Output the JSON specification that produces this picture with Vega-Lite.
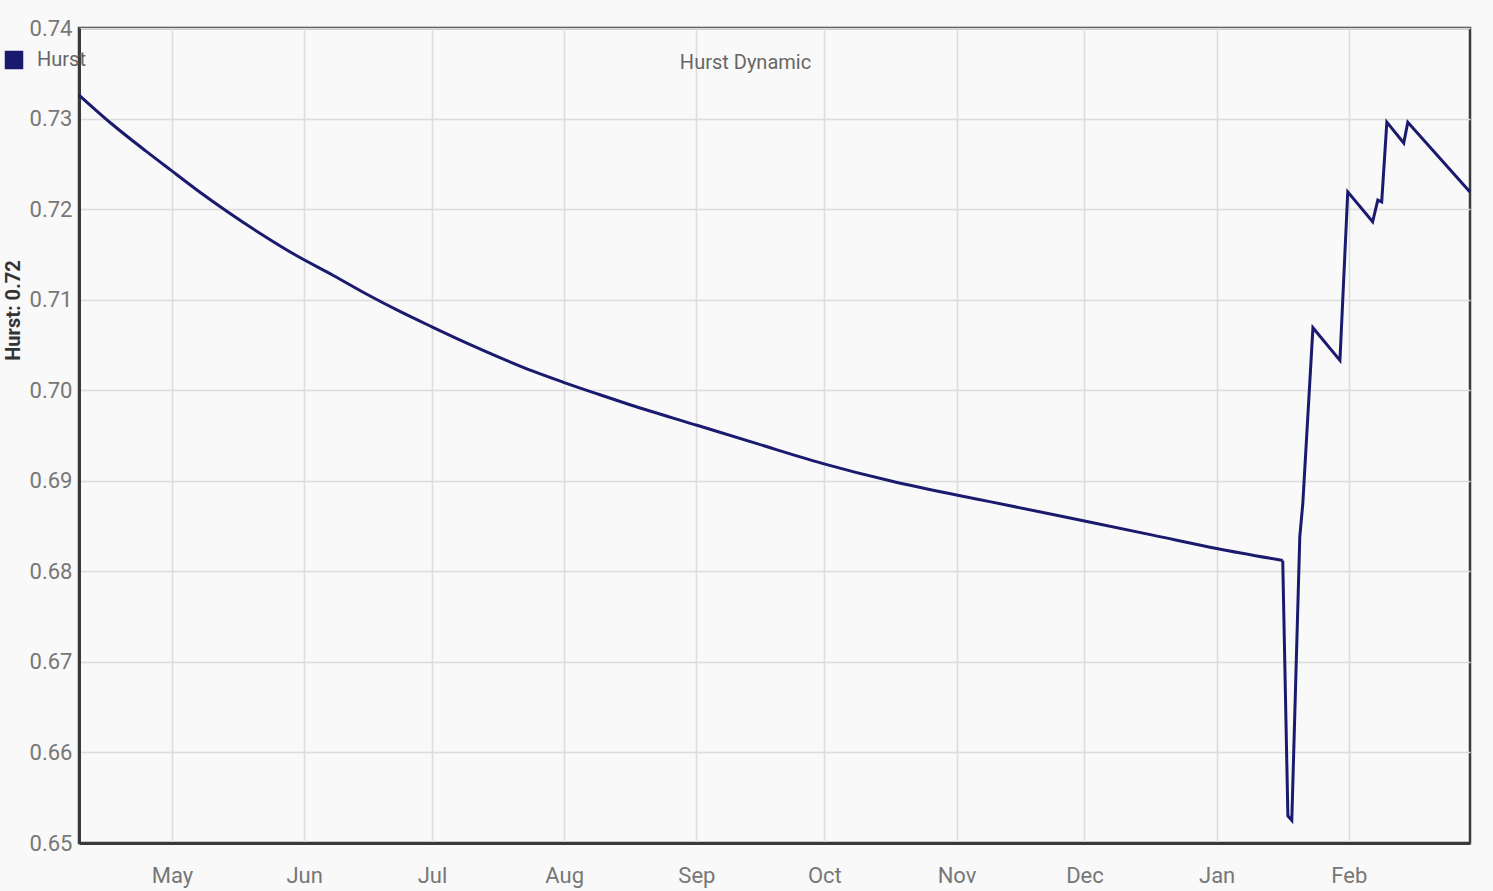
{
  "$schema": "https://vega.github.io/schema/vega-lite/v6.json",
  "width": 1391,
  "height": 815,
  "autosize": {"type": "none"},
  "padding": {"left": 79, "top": 28, "right": 23, "bottom": 48},
  "background": "#f9f9f9",
  "config": {"font": "Roboto", "view": {"stroke": "#3a3a3a", "strokeWidth": 2.5}},
  "title": {"text": "Hurst Dynamic", "anchor": "middle", "frame": "group", "dx": -29, "offset": -72, "baseline": "alphabetic", "fontSize": 20, "fontWeight": "normal", "color": "#666666"},
  "data": {"values": [
    {"part": "curve", "date": "2019-04-09T05:00", "hurst": 0.7326},
    {"part": "curve", "date": "2019-04-16T22:00", "hurst": 0.7294},
    {"part": "curve", "date": "2019-04-24T22:00", "hurst": 0.7264},
    {"part": "curve", "date": "2019-04-30T18:00", "hurst": 0.7243},
    {"part": "curve", "date": "2019-05-06T15:00", "hurst": 0.7222},
    {"part": "curve", "date": "2019-05-14T09:00", "hurst": 0.7196},
    {"part": "curve", "date": "2019-05-22T02:00", "hurst": 0.7172},
    {"part": "curve", "date": "2019-05-30T02:00", "hurst": 0.7149},
    {"part": "curve", "date": "2019-06-07T18:00", "hurst": 0.7127},
    {"part": "curve", "date": "2019-06-15T17:00", "hurst": 0.7106},
    {"part": "curve", "date": "2019-06-23T11:00", "hurst": 0.7087},
    {"part": "curve", "date": "2019-06-30T23:00", "hurst": 0.7070},
    {"part": "curve", "date": "2019-07-09T04:00", "hurst": 0.7052},
    {"part": "curve", "date": "2019-07-16T22:00", "hurst": 0.7036},
    {"part": "curve", "date": "2019-07-24T16:00", "hurst": 0.7021},
    {"part": "curve", "date": "2019-07-31T16:00", "hurst": 0.7009},
    {"part": "curve", "date": "2019-08-09T09:00", "hurst": 0.6995},
    {"part": "curve", "date": "2019-08-16T10:00", "hurst": 0.6984},
    {"part": "curve", "date": "2019-09-01T08:00", "hurst": 0.6961},
    {"part": "curve", "date": "2019-09-15T05:00", "hurst": 0.6941},
    {"part": "curve", "date": "2019-09-30T17:00", "hurst": 0.6919},
    {"part": "curve", "date": "2019-10-16T10:00", "hurst": 0.6900},
    {"part": "curve", "date": "2019-11-01T07:00", "hurst": 0.6884},
    {"part": "curve", "date": "2019-11-08T19:00", "hurst": 0.6877},
    {"part": "curve", "date": "2019-12-01T14:00", "hurst": 0.6855},
    {"part": "curve", "date": "2019-12-17T00:00", "hurst": 0.6840},
    {"part": "curve", "date": "2020-01-01T07:00", "hurst": 0.6825},
    {"part": "curve", "date": "2020-01-16T12:00", "hurst": 0.6812},
    {"part": "jump", "date": "2020-01-16T12:00", "hurst": 0.6812},
    {"part": "jump", "date": "2020-01-17T17:00", "hurst": 0.6530},
    {"part": "jump", "date": "2020-01-18T15:00", "hurst": 0.6525},
    {"part": "jump", "date": "2020-01-20T12:00", "hurst": 0.6838},
    {"part": "jump", "date": "2020-01-21T05:00", "hurst": 0.6875},
    {"part": "jump", "date": "2020-01-23T14:00", "hurst": 0.7069},
    {"part": "jump", "date": "2020-01-29T22:00", "hurst": 0.7033},
    {"part": "jump", "date": "2020-01-31T18:00", "hurst": 0.7219},
    {"part": "jump", "date": "2020-02-06T14:00", "hurst": 0.7186},
    {"part": "jump", "date": "2020-02-07T19:00", "hurst": 0.7210},
    {"part": "jump", "date": "2020-02-08T17:00", "hurst": 0.7208},
    {"part": "jump", "date": "2020-02-09T22:00", "hurst": 0.7296},
    {"part": "jump", "date": "2020-02-13T21:00", "hurst": 0.7273},
    {"part": "jump", "date": "2020-02-14T20:00", "hurst": 0.7296},
    {"part": "jump", "date": "2020-02-29T10:00", "hurst": 0.7219}
  ]},
  "encoding": {
    "x": {
      "field": "date",
      "type": "temporal",
      "scale": {"domain": [{"year": 2019, "month": 4, "date": 9, "hours": 5}, {"year": 2020, "month": 2, "date": 29, "hours": 10}]},
      "axis": {
        "format": "%b",
        "tickCount": {"interval": "month", "step": 1},
        "title": null,
        "grid": true,
        "gridColor": "#dcdcdc",
        "gridWidth": 1.5,
        "ticks": false,
        "domainColor": "#3a3a3a",
        "domainWidth": 3,
        "labelFontSize": 22,
        "labelColor": "#777777",
        "labelPadding": 22,
        "labelFlush": false
      }
    },
    "y": {
      "field": "hurst",
      "type": "quantitative",
      "scale": {"domain": [0.65, 0.74], "nice": false, "zero": false},
      "axis": {
        "values": [0.65, 0.66, 0.67, 0.68, 0.69, 0.70, 0.71, 0.72, 0.73, 0.74],
        "format": ".2f",
        "title": "Hurst: 0.72",
        "titleAngle": -90,
        "titleX": -56,
        "titleY": 282,
        "titleFontSize": 20,
        "titleFontWeight": "bold",
        "titleColor": "#333333",
        "ticks": false,
        "labelPadding": 7,
        "labelFontSize": 22,
        "labelColor": "#777777",
        "gridColor": "#dcdcdc",
        "gridWidth": 1.5,
        "domainColor": "#3a3a3a",
        "domainWidth": 3
      }
    },
    "color": {
      "datum": "Hurst",
      "scale": {"range": ["#1a1a6e"]},
      "legend": {
        "orient": "none",
        "legendX": -75,
        "legendY": 22,
        "title": null,
        "padding": 0,
        "labelFontSize": 20,
        "labelColor": "#666666",
        "labelOffset": 13,
        "symbolType": "square",
        "symbolSize": 289,
        "symbolFillColor": "#1a1a6e",
        "symbolStrokeColor": "#1a1a6e",
        "encode": {"symbols": {"update": {"fill": {"value": "#1a1a6e"}, "stroke": {"value": "#1a1a6e"}}}}
      }
    }
  },
  "layer": [
    {
      "transform": [{"filter": "datum.part === 'curve'"}],
      "mark": {"type": "line", "strokeWidth": 3, "interpolate": "monotone"}
    },
    {
      "transform": [{"filter": "datum.part === 'jump'"}],
      "mark": {"type": "line", "strokeWidth": 3, "interpolate": "linear", "strokeJoin": "miter"}
    }
  ]
}
